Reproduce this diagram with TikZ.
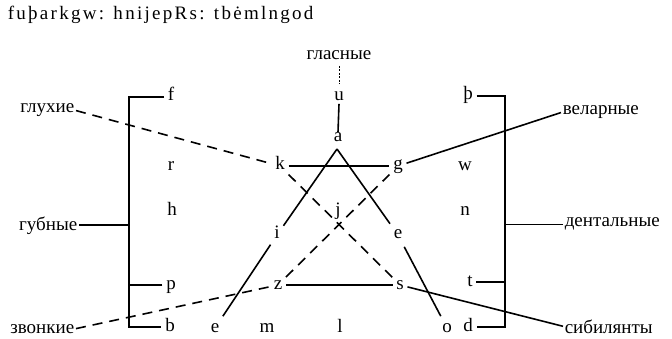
\documentclass[tikz,border=0pt]{standalone}
\usepackage{fontspec}
\setmainfont{Liberation Serif}
\usepackage{tikz}
\tikzset{every node/.append style={font=\fontsize{19}{21}\selectfont}}

\begin{document}
\begin{tikzpicture}[x=1pt, y=-1pt, line width=1.6pt,
    rune/.style={anchor=base, inner sep=3pt, text height=12pt, text depth=4pt},
    group/.style={inner sep=1pt},
    gapline/.style={dash pattern=on 10pt off 7pt}]
    \useasboundingbox (0,0) rectangle (672,339);
    % title line
    \node[anchor=base west, inner sep=0pt, font=\fontsize{19}{20}\selectfont\addfontfeatures{LetterSpace=12}] (title) at (7,20) {fuþarkgw: hnijepRs: tbėmlngod};
    % letters, left column
    \node[rune] (f) at (171,101) {f};
    \node[rune] (r) at (171,171) {r};
    \node[rune] (h) at (172,216) {h};
    \node[rune] (p) at (171,289) {p};
    \node[rune] (b) at (170,331) {b};
    % letters, right column
    \node[rune] (thorn) at (468,100) {þ};
    \node[rune] (w) at (465,171) {w};
    \node[rune] (n) at (465,216) {n};
    \node[rune] (t) at (470,286) {t};
    \node[rune] (d) at (468,331) {d};
    % letters, middle
    \node[rune, inner sep=1pt, text depth=1pt] (u) at (339,101) {u};
    \node[rune, inner sep=1pt, text height=8pt] (a) at (338,142) {a};
    \node[rune] (k) at (280,170) {k};
    \node[rune] (g) at (398,170) {g};
    \node[rune] (j) at (338,216) {j};
    \node[rune] (i) at (277,239) {i};
    \node[rune] (er) at (398,239) {e};
    \node[rune] (z) at (278,289) {z};
    \node[rune] (s) at (400,289) {s};
    \node[rune] (eb) at (215,332) {e};
    \node[rune] (m) at (267,332) {m};
    \node[rune] (l) at (340,332) {l};
    \node[rune] (o) at (447,332) {o};
    % group names
    \node[group, anchor=base] (glasnye) at (339,60) {гласные};
    \node[group, anchor=base east] (glukhie) at (76,113) {глухие};
    \node[group, anchor=base east] (gubnye) at (79,230) {губные};
    \node[group, anchor=base east] (zvonkie) at (76,333) {звонкие};
    \node[group, anchor=base west] (velarnye) at (561,115) {веларные};
    \node[group, anchor=base west] (dentalnye) at (563,227) {дентальные};
    \node[group, anchor=base west] (sibilyanty) at (563,333) {сибилянты};
    % brackets
    \coordinate (lt) at (129,97);
    \coordinate (lb) at (129,327);
    \coordinate (rt) at (505,96);
    \coordinate (rb) at (505,327);
    \draw (f.west |- lt) -- (lt) -- (lb) -- (b.west |- lb);
    \draw (p.west) -- (p.west -| lt);
    \draw (gubnye.east) -- (gubnye.east -| lt);
    \draw (thorn.east |- rt) -- (rt) -- (rb) -- (d.east |- rb);
    \draw (t.east) -- (t.east -| rt);
    \draw (dentalnye.west) -- (dentalnye.west -| rt);
    % vowels
    \draw[line width=1pt, dash pattern=on 2pt off 1.5pt, shorten <=4pt, shorten >=3pt] (glasnye) -- (u);
    \draw (u.south) -- (a.north);
    \coordinate (apex) at (337,149);
    \draw (apex) -- (i) -- (eb);
    \draw (apex) -- (er) -- (o);
    % consonants
    \draw (k) -- (g);
    \draw (z) -- (s);
    \draw[gapline] (glukhie.east) -- (k) -- (s);
    \draw[gapline] (zvonkie.east) -- (z) -- (g);
    \draw (g) -- (velarnye.west);
    \draw (s) -- (sibilyanty.west);
\end{tikzpicture}
\end{document}
